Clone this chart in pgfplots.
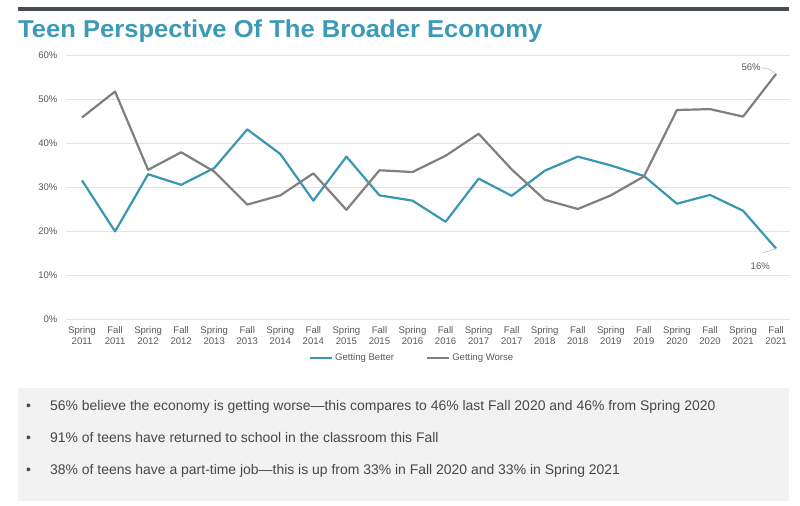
\documentclass[border=0pt]{standalone}
\usepackage{fontspec}
\setmainfont{Liberation Sans}
\usepackage{pgfplots}
\pgfplotsset{compat=1.18}
\definecolor{tealblue}{HTML}{3A97B2}
\definecolor{titleblue}{HTML}{3B9AB7}
\definecolor{worsegray}{HTML}{7F7F7F}
\definecolor{bargray}{HTML}{484D53}
\definecolor{txtgray}{HTML}{595959}
\definecolor{bodygray}{HTML}{474747}
\definecolor{boxgray}{HTML}{F2F2F2}
\definecolor{gridgray}{HTML}{E3E3E3}
\begin{document}
\begin{tikzpicture}
\path[use as bounding box, fill=white] (0,0) rectangle (800bp,506bp);
% top bar
\fill[bargray] (18bp,495bp) rectangle (789bp,499bp);
% title
\node[anchor=base west, inner sep=0pt, text=titleblue, font=\fontsize{24.5}{28}\selectfont\bfseries] at (18bp,468bp) {\scalebox{1.048}[1]{Teen Perspective Of The Broader Economy}};
% bullet box
\fill[boxgray] (18bp,5bp) rectangle (789bp,118bp);
\begin{scope}[every node/.style={anchor=base west, inner sep=0pt, text=bodygray, font=\fontsize{14}{16}\selectfont}]
\node at (26bp,95bp) {•};
\node at (50bp,95bp) {56\% believe the economy is getting worse—this compares to 46\% last Fall 2020 and 46\% from Spring 2020};
\node at (26bp,63bp) {•};
\node at (50bp,63bp) {91\% of teens have returned to school in the classroom this Fall};
\node at (26bp,31.7bp) {•};
\node at (50bp,31.7bp) {38\% of teens have a part-time job—this is up from 33\% in Fall 2020 and 33\% in Spring 2021};
\end{scope}
\begin{axis}[
  at={(66bp,187bp)}, anchor=south west,
  scale only axis, width=724bp, height=264bp,
  xmin=-0.484, xmax=21.42, ymin=0, ymax=60,
  axis line style={draw=none},
  major tick length=0pt,
  ytick={0,10,...,60},
  yticklabel={\pgfmathprintnumber{\tick}\%},
  ymajorgrids, grid style={draw=gridgray, line width=0.9pt},
  xtick={0,...,21},
  xticklabels={{Spring\\2011},{Fall\\2011},{Spring\\2012},{Fall\\2012},{Spring\\2013},{Fall\\2013},{Spring\\2014},{Fall\\2014},{Spring\\2015},{Fall\\2015},{Spring\\2016},{Fall\\2016},{Spring\\2017},{Fall\\2017},{Spring\\2018},{Fall\\2018},{Spring\\2019},{Fall\\2019},{Spring\\2020},{Fall\\2020},{Spring\\2021},{Fall\\2021}},
  /pgf/number format/assume math mode=true,
  xticklabel style={align=center, text=txtgray, font=\fontsize{9.6}{11.5}\selectfont, yshift=-4bp},
  yticklabel style={text=txtgray, font=\fontsize{9.6}{11.5}\selectfont, xshift=-5bp},
  legend style={at={(rel axis cs:0.478,-0.1466)}, anchor=center, draw=none, fill=none,
    legend columns=2, font=\fontsize{9.6}{11.5}\selectfont, text=txtgray,
    /tikz/every even column/.append style={column sep=30bp},
    inner sep=0pt, cells={anchor=west}},
  legend image code/.code={\draw[#1, line width=2.2bp] (0bp,0bp) -- (22bp,0bp);},
  clip=false,
]
\addplot[tealblue, line width=2.2bp, line join=round] coordinates {
(0,31.5) (1,19.9) (2,32.9) (3,30.5) (4,34.3) (5,43.1) (6,37.5) (7,26.9) (8,36.9) (9,28.1) (10,26.9)
(11,22.1) (12,31.9) (13,28.0) (14,33.7) (15,36.9) (16,34.9) (17,32.5) (18,26.2) (19,28.2) (20,24.6) (21,16.0)};
\addlegendentry{Getting Better}
\addplot[worsegray, line width=2.2bp, line join=round] coordinates {
(0,45.8) (1,51.7) (2,33.9) (3,37.9) (4,33.5) (5,26.0) (6,28.1) (7,33.1) (8,24.8) (9,33.8) (10,33.4)
(11,37.1) (12,42.1) (13,34.0) (14,27.1) (15,25.0) (16,28.1) (17,32.4) (18,47.5) (19,47.7) (20,46.0) (21,55.7)};
\addlegendentry{Getting Worse}
\draw[gray!50, line width=0.6bp] (axis cs:20.57,57.1) -- (axis cs:20.78,56.8) -- (axis cs:21,55.7);
\node[anchor=east, inner sep=0pt, text=txtgray, font=\fontsize{9.6}{11.5}\selectfont] at (axis cs:20.54,57.2) {56\%};
\draw[gray!50, line width=0.6bp] (axis cs:21,16.0) -- (axis cs:20.6,15.0);
\node[inner sep=0pt, text=txtgray, font=\fontsize{9.6}{11.5}\selectfont] at (axis cs:20.52,12.0) {16\%};
\end{axis}
\end{tikzpicture}
\end{document}
